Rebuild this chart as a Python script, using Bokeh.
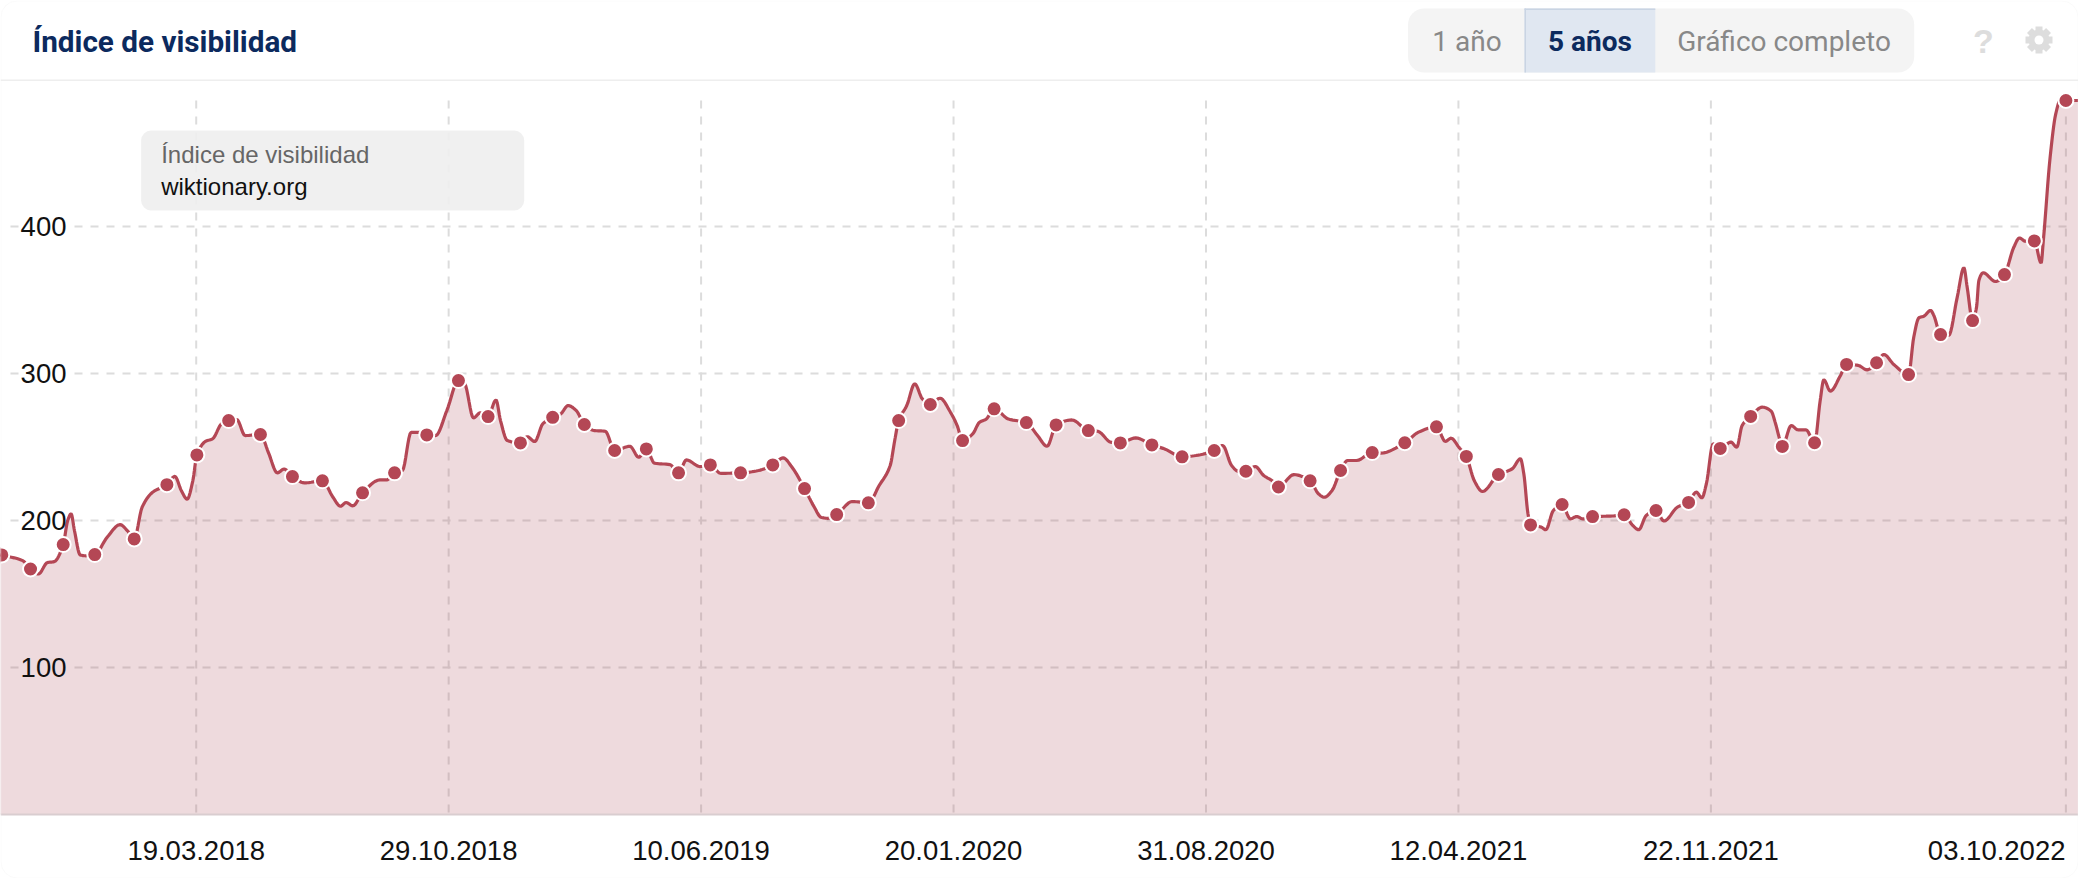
from bokeh.plotting import figure
from bokeh.embed import file_html
from bokeh.resources import INLINE
from bokeh.models import Range1d, FixedTicker, Label, BoxAnnotation
import numpy as np

TITLE = "Índice de visibilidad"
DOMAIN = "wiktionary.org"
BUTTONS = ["1 año", "5 años", "Gráfico completo"]

# x = days since 19.03.2018
tick_days = [0, 224, 448, 672, 896, 1120, 1344, 1659]
tick_labels = ["19.03.2018", "29.10.2018", "10.06.2019", "20.01.2020",
               "31.08.2020", "12.04.2021", "22.11.2021", "03.10.2022"]
y_ticks = [100, 200, 300, 400]

line_days = [-174,-154,-147,-140,-132,-126,-118,-114,-111,-108,-103,-98,-90,-79,-67.5,-61,-55,-48,-39,-26,-19,-13,-8,-3,0.6,
 8.6,14.5,22.4,28.8,36,43.4,57,64,72,78,85.4,96,112,121.4,128,133,139,147.6,163,169,176,183,190.7,196.7,204.6,212.5,222.4,232.7,
 238.2,246,252,259,266,270,276,287.7,293.7,300.4,307.5,316.3,323.4,330,337.2,344.4,353,363,371.3,384.8,392.7,399.4,406.6,420.4,428,435,447,
 456.2,465.3,483,499,511.6,520.8,528.7,539.8,548.5,554.4,560.4,568.3,582,596.4,606,615.8,619.8,623.3,630.5,637.6,644.3,651.4,660,669.3,675.2,680,
 689,695,701,708,720.7,736.6,746.5,755,763,777,791.6,800,811.8,820,833.6,848,859.3,874.8,887,903.3,910.8,918.7,924.7,931.4,939.7,947.2,954.4,960.3,
 974,988.4,996,1001,1007.8,1015.4,1021.7,1029.6,1043.5,1051,1072.4,1084.6,1100.5,1108.4,1113.5,1120.3,1127,1134,1141.3,1155.5,1167.8,1175,1178,1181.7,1184,
 1193.5,1197.5,1204.2,1212,1219.3,1225,1230.4,1239,1255,1267,1274.7,1280,1286.6,1295.3,1302.4,1314.3,1324.2,1331,1336,1340,1346,1352.3,1361.8,1367,1371.7,1379.3,
 1389.6,1397.5,1401.4,1405.4,1407.4,1415.3,1421.2,1428.4,1436,1441,1444.2,1450,1459,1464.4,1474.7,1482.6,1491,1497.5,1506.3,1519.4,1524,1528.6,1533,1539,1541.8,1547.8,
 1555,1562.6,1568.5,1571.4,1576.2,1579.7,1581.8,1585.6,1596.5,1604.5,1612.8,1617.8,1623,1631,1637,1639,1645,1650,1654,1659,1671]
line_values = [176.6,172.7,167,163.6,171.4,172,183.6,200,204.5,193,176.6,176,176.8,188.6,197.2,193,187.5,209,219,224.4,230,220,214.5,227,244.6,
 254,255.5,265.7,268,268.7,257.8,258.5,246.4,232.4,235,229.9,225.6,227,215.8,209.7,212.2,210,218.8,227.6,227.6,232.4,234,260,260,258.2,257.8,274.8,295.2,
 293,269.8,273.2,270.7,282,268,254.4,252.8,257,253.7,265.7,270.2,272.5,278.2,274.8,265.3,261.2,260.7,247.6,250.5,243,248.7,239,238,232.4,241.2,236.7,
 237.8,232.1,232.4,234,237.8,242.6,236.2,221.7,209,202.2,201.5,204,212.9,212,223.8,237.4,254.4,268,278.2,293,282.7,278.9,283.2,273.6,264.6,254.4,
 258.9,266.8,269,276,269,266.6,257.8,250.5,265,268.4,261.2,260.7,253.2,252.8,256.2,251.4,248.7,243.3,244.2,247.6,251,237.4,233.5,233.5,236.7,230.6,227.2,222.8,
 231.2,227,218,215.8,220.3,234,240.8,240.8,246.2,245.8,252.9,260.1,263.7,253.8,256,249.9,243.6,227.2,219.7,231.3,235.2,242,231.8,204.6,197,
 195.5,193.7,206.8,210.9,201.1,202.7,201.1,202.7,203,203.9,196.6,193.7,203.4,206.8,199.6,209.1,212.3,219.3,215.4,225,252.2,249,253.3,249.9,264.6,270.8,
 277.1,274.4,265.8,254.4,250.4,264.6,261.7,261.7,252.9,281.7,295.7,288,298.7,306.2,305.5,302.5,307.3,312.9,306.1,299.3,324.7,337.9,339,342.9,339.5,326.5,
 325.9,352,371.9,358.7,336,345,363.3,368.5,362.6,367.3,385.9,392.2,390,390.2,375.2,390.5,447,476.6,485.7,485.7,485.7]

dot_days = [-172.5,-147,-118,-90,-55,-26,0.6,28.8,57,85.4,112,147.6,176,204.6,232.7,259,287.7,316.3,344.4,371.3,399.4,428,
 456.2,483,511.6,539.8,568.3,596.4,623.3,651.4,680,708,736.6,763,791.6,820,848,874.8,903.3,931.4,960.3,988.4,1015.4,1043.5,
 1072.4,1100.5,1127,1155.5,1184,1212,1239,1267,1295.3,1324.2,1352.3,1379.3,1407.4,1436,1464.4,1491,1519.4,1547.8,1576.2,1604.5,1631,1659]
dot_values = [176.6,167,183.6,176.8,187.5,224.4,244.6,268,258.5,229.9,227,218.8,232.4,258.2,295.2,270.7,252.8,270.2,265.3,247.6,248.7,232.4,
 237.8,232.4,237.8,221.7,204,212,268,278.9,254.4,276,266.6,265,261.2,252.8,251.4,243.3,247.6,233.5,222.8,227,234,246.2,
 252.9,263.7,243.6,231.3,197,210.9,202.7,203.9,206.8,212.3,249,270.8,250.4,252.9,306.2,307.3,299.3,326.5,336,367.3,390.2,485.7]

W, H = 2078, 878
BOTTOM, SEP = 814, 80
PX_DAY, X0 = 1.127, 195.7
PX_UNIT = 1.47

def day(px):
    return (px - X0) / PX_DAY

def val(py):
    return (BOTTOM - py) / PX_UNIT

def smooth(xs, ys, n=8):
    """Monotone cubic drawing of the read points (like a spline series)."""
    xs, ys = np.array(xs, float), np.array(ys, float)
    h = np.diff(xs); d = np.diff(ys) / h
    m = np.zeros_like(xs); m[0], m[-1] = d[0], d[-1]
    for i in range(1, len(xs) - 1):
        if d[i-1] * d[i] > 0:
            w1, w2 = 2*h[i] + h[i-1], h[i] + 2*h[i-1]
            m[i] = (w1 + w2) / (w1/d[i-1] + w2/d[i])
    ox, oy = [], []
    for i in range(len(h)):
        t = np.linspace(0, 1, n, endpoint=False)
        ox.extend(xs[i] + t*h[i])
        oy.extend((2*t**3-3*t**2+1)*ys[i] + (t**3-2*t**2+t)*h[i]*m[i]
                  + (-2*t**3+3*t**2)*ys[i+1] + (t**3-t**2)*h[i]*m[i+1])
    ox.append(xs[-1]); oy.append(ys[-1])
    return np.array(ox), np.array(oy)

# The frame fills the whole canvas; the axes keep their labels inside it.
p = figure(width=W, height=H, output_backend="svg", toolbar_location=None,
           x_range=Range1d(day(0), day(W)),
           y_range=Range1d(-(H-BOTTOM)/PX_UNIT, BOTTOM/PX_UNIT),
           min_border_left=0, min_border_right=0, min_border_top=0, min_border_bottom=0,
           outline_line_color=None, background_fill_color="white", border_fill_color="white")
p.grid.visible = False

LABEL_FONT = "Liberation Sans"
FS = "27.5px"
ax = p.xaxis[0]
ax.ticker = FixedTicker(ticks=tick_days)
ax.major_label_overrides = {d: (l if d != tick_days[-1] else "") for d, l in zip(tick_days, tick_labels)}
ax.major_tick_line_color = None
ax.major_tick_in = 0
ax.major_tick_out = 0
ax.minor_tick_line_color = None
ax.axis_line_color = None
ax.major_label_standoff = -38
ax.major_label_text_font = LABEL_FONT
ax.major_label_text_font_size = FS
ax.major_label_text_color = "#111111"

ay = p.yaxis[0]
ay.ticker = FixedTicker(ticks=y_ticks)
ay.axis_line_color = None
ay.major_tick_line_color = None
ay.major_tick_in = 0
ay.major_tick_out = 0
ay.minor_tick_line_color = None
ay.major_label_standoff = -66
ay.major_label_text_font = LABEL_FONT
ay.major_label_text_font_size = FS
ay.major_label_text_color = "#111111"

GRID = "#dcdcdc"
gx0 = [day(74)] * len(y_ticks); gx1 = [day(2066)] * len(y_ticks)
p.segment(gx0, y_ticks, gx1, y_ticks, line_color=GRID, line_width=2, line_dash="8 8")
p.segment([day(10)]*len(y_ticks), y_ticks, [day(18)]*len(y_ticks), y_ticks, line_color=GRID, line_width=2)
top = val(100)
p.segment(tick_days, [top]*len(tick_days), tick_days, [0]*len(tick_days), line_color=GRID, line_width=2, line_dash="8 8")

RED = "#b44755"
sx, sy = smooth(line_days, line_values)
p.varea(sx, np.zeros_like(sy), sy, fill_color="#ab4556", fill_alpha=0.2)
p.segment([day(0)], [0], [day(W)], [0], line_color="#d9cdd0", line_width=2)
p.line(sx, sy, line_color=RED, line_width=3.2)
p.scatter(dot_days, dot_values, size=15, fill_color=RED, line_color="white", line_width=2)

def Y(top_px):
    return H - top_px

def box(l, r, t, b, color, radius=0, alpha=1.0, line=None):
    a = BoxAnnotation(left=l, right=r, top=Y(t), bottom=Y(b),
                      left_units="screen", right_units="screen", top_units="screen", bottom_units="screen",
                      fill_color=color, fill_alpha=alpha, line_color=line, border_radius=radius, level="annotation")
    p.add_layout(a)

BASE_FIX = 8  # a Label's alphabetic baseline lands this far below the asked position
def text(x, base, s, font, size, color, style="normal", align="left"):
    p.add_layout(Label(x=x, y=Y(base) + BASE_FIX, x_units="screen", y_units="screen", text=s, text_font=font,
                       text_font_size=size, text_color=color, text_font_style=style,
                       text_align=align, text_baseline="alphabetic", level="overlay"))

NAVY = "#0c2a5e"
box(0.5, W-0.5, 0.5, H-0.5, None, radius=16, alpha=0, line="#eeeeee")
box(0, W, 79, 80.5, "#eeeeee")
box(140.6, 523.7, 130, 210, "#eeeeee", radius=10, alpha=0.9)
text(160.7, 161.5, TITLE, LABEL_FONT, "24px", "#666666")
text(160.7, 193.5, DOMAIN, LABEL_FONT, "24px", "#111111")
text(32, 49, TITLE, "Roboto", "29.7px", NAVY, "bold")
box(1407.5, 1913.7, 8, 72, "#f4f4f4", radius=16)
box(1524, 1654.8, 8, 72, "#e0e7f1")
box(1524, 1525.5, 8, 72, "#c9d4e3")
box(1524, 1654.8, 8, 9.5, "#c9d4e3")
text(1466.5, 48.5, BUTTONS[0], "Roboto", "28px", "#888888", align="center")
text(1589.4, 48.5, BUTTONS[1], "Roboto", "28px", NAVY, "bold", align="center")
text(1783.5, 48.5, BUTTONS[2], "Roboto", "28px", "#888888", align="center")
text(1983, 48.5, "?", "Liberation Sans", "34px", "#dddddd", "bold", align="center")
text(2065, 858, tick_labels[-1], LABEL_FONT, FS, "#111111", align="right")

# settings icon
gx, gy = day(2038.5), val(39.5)
p.rect([gx]*4, [gy]*4, width=7, height=27, angle=[0, 45, 90, 135], angle_units="deg",
       width_units="screen", height_units="screen", fill_color="#dddddd", line_color=None)
p.scatter([gx], [gy], size=21, fill_color="#dddddd", line_color=None)
p.scatter([gx], [gy], size=9, fill_color="white", line_color=None)

open("out.html", "w").write(file_html(p, INLINE))
